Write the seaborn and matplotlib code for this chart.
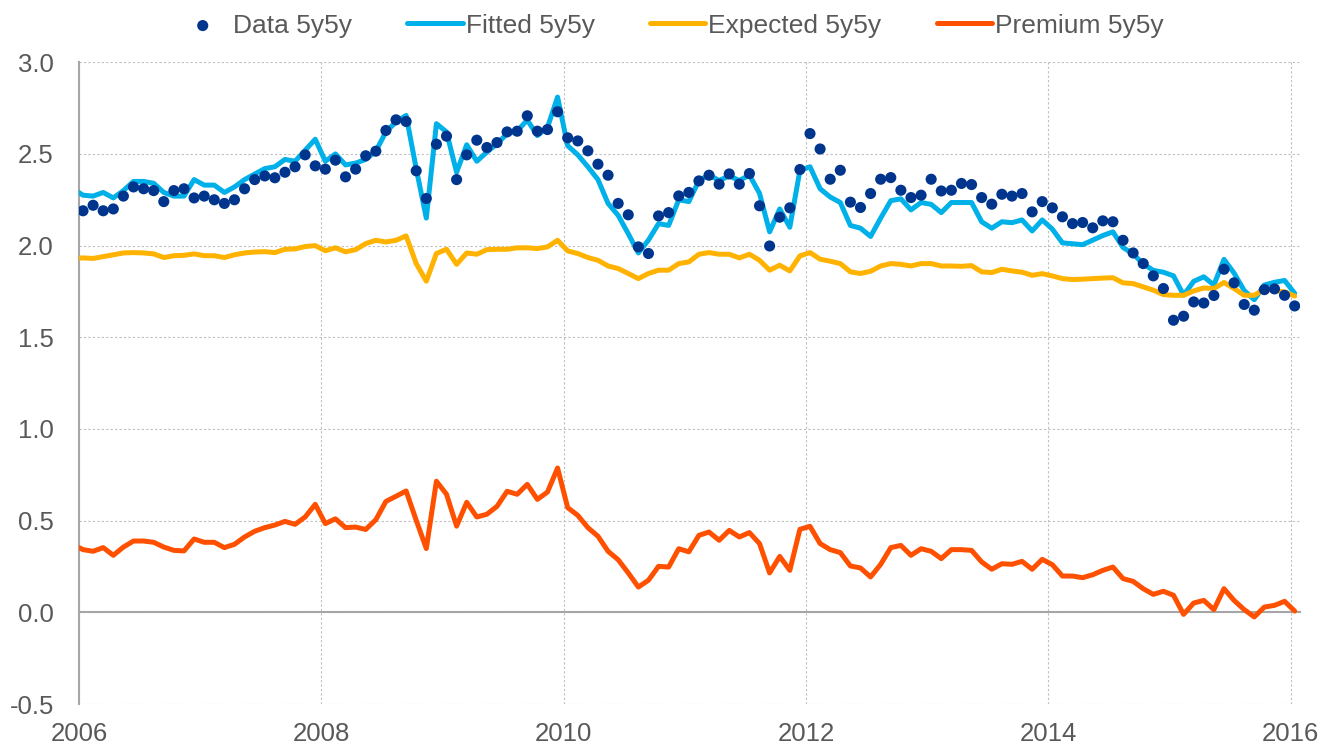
import numpy as np
import pandas as pd
import matplotlib.pyplot as plt
from matplotlib.ticker import FormatStrFormatter
import seaborn as sns

# monthly values, lines start one month before the first data point (Dec 2005)
fitted = [2.31,
          2.275, 2.27, 2.29, 2.26, 2.30, 2.35, 2.35, 2.34, 2.29, 2.27, 2.27, 2.36,
          2.33, 2.33, 2.29, 2.32, 2.36, 2.39, 2.42, 2.43, 2.47, 2.46, 2.52, 2.58,
          2.46, 2.50, 2.44, 2.45, 2.47, 2.515, 2.62, 2.675, 2.71, 2.42, 2.15, 2.665,
          2.62, 2.40, 2.55, 2.46, 2.51, 2.555, 2.61, 2.625, 2.685, 2.60, 2.645, 2.81,
          2.545, 2.495, 2.43, 2.36, 2.23, 2.165, 2.065, 1.96, 2.03, 2.12, 2.11, 2.25,
          2.24, 2.355, 2.385, 2.355, 2.38, 2.355, 2.385, 2.285, 2.075, 2.20, 2.10, 2.41,
          2.43, 2.31, 2.265, 2.235, 2.11, 2.095, 2.05, 2.15, 2.245, 2.255, 2.195, 2.235,
          2.225, 2.18, 2.235, 2.235, 2.235, 2.13, 2.095, 2.13, 2.125, 2.14, 2.08, 2.14,
          2.09, 2.015, 2.01, 2.005, 2.03, 2.055, 2.075, 1.99, 1.955, 1.90, 1.865, 1.855,
          1.835, 1.73, 1.805, 1.83, 1.785, 1.925, 1.85, 1.755, 1.705, 1.785, 1.80, 1.81,
          1.74]
expected = [1.93,
            1.933, 1.93, 1.94, 1.95, 1.96, 1.962, 1.96, 1.955, 1.935, 1.945, 1.947, 1.955,
            1.945, 1.945, 1.935, 1.95, 1.96, 1.965, 1.967, 1.962, 1.98, 1.982, 1.995, 2.0,
            1.972, 1.988, 1.966, 1.978, 2.011, 2.029, 2.02, 2.029, 2.053, 1.902, 1.806, 1.957,
            1.98, 1.898, 1.96, 1.953, 1.978, 1.98, 1.98, 1.988, 1.988, 1.984, 1.993, 2.029,
            1.971, 1.957, 1.935, 1.92, 1.889, 1.875, 1.848, 1.82, 1.848, 1.866, 1.866, 1.902,
            1.911, 1.953, 1.962, 1.953, 1.953, 1.933, 1.953, 1.92, 1.866, 1.893, 1.862, 1.944,
            1.962, 1.926, 1.915, 1.902, 1.857, 1.848, 1.86, 1.889, 1.902, 1.898, 1.889, 1.902,
            1.902, 1.889, 1.889, 1.887, 1.891, 1.857, 1.853, 1.871, 1.862, 1.855, 1.838, 1.847,
            1.835, 1.82, 1.815, 1.817, 1.82, 1.823, 1.825, 1.797, 1.793, 1.775, 1.757, 1.733,
            1.729, 1.729, 1.753, 1.769, 1.766, 1.799, 1.766, 1.729, 1.729, 1.762, 1.757, 1.747,
            1.725]
premium = [0.37,
           0.342, 0.333, 0.353, 0.311, 0.356, 0.389, 0.389, 0.382, 0.356, 0.338, 0.335, 0.40,
           0.382, 0.382, 0.353, 0.371, 0.411, 0.442, 0.462, 0.476, 0.496, 0.48, 0.52, 0.589,
           0.484, 0.51, 0.462, 0.465, 0.452, 0.505, 0.605, 0.633, 0.662, 0.502, 0.348, 0.715,
           0.644, 0.47, 0.60, 0.52, 0.535, 0.578, 0.66, 0.644, 0.698, 0.616, 0.656, 0.787,
           0.571, 0.529, 0.462, 0.415, 0.333, 0.287, 0.215, 0.138, 0.175, 0.251, 0.247, 0.347,
           0.33, 0.42, 0.438, 0.393, 0.447, 0.411, 0.435, 0.375, 0.215, 0.305, 0.229, 0.453,
           0.469, 0.375, 0.342, 0.326, 0.253, 0.242, 0.193, 0.262, 0.353, 0.365, 0.311, 0.347,
           0.333, 0.293, 0.342, 0.342, 0.338, 0.275, 0.235, 0.265, 0.262, 0.278, 0.235, 0.289,
           0.26, 0.198, 0.198, 0.189, 0.205, 0.229, 0.247, 0.184, 0.169, 0.129, 0.098, 0.115,
           0.093, -0.011, 0.051, 0.065, 0.015, 0.129, 0.065, 0.015, -0.025, 0.029, 0.038, 0.06,
           0.007]
# observed data, Jan 2006 - Jan 2016
data = [2.19, 2.22, 2.19, 2.20, 2.27, 2.32, 2.31, 2.30, 2.24, 2.30, 2.31, 2.26,
        2.27, 2.25, 2.23, 2.25, 2.31, 2.36, 2.38, 2.37, 2.40, 2.43, 2.495, 2.435,
        2.417, 2.466, 2.375, 2.417, 2.49, 2.515, 2.628, 2.686, 2.677, 2.408, 2.257, 2.553,
        2.597, 2.36, 2.495, 2.575, 2.535, 2.562, 2.62, 2.624, 2.708, 2.624, 2.633, 2.73,
        2.588, 2.571, 2.517, 2.444, 2.384, 2.23, 2.168, 1.993, 1.957, 2.162, 2.18, 2.271,
        2.29, 2.353, 2.384, 2.335, 2.391, 2.335, 2.393, 2.217, 1.998, 2.155, 2.206, 2.415,
        2.611, 2.527, 2.362, 2.411, 2.237, 2.208, 2.284, 2.362, 2.371, 2.302, 2.262, 2.275,
        2.362, 2.298, 2.302, 2.339, 2.333, 2.262, 2.226, 2.28, 2.27, 2.284, 2.184, 2.24,
        2.206, 2.157, 2.12, 2.126, 2.097, 2.135, 2.13, 2.029, 1.96, 1.902, 1.835, 1.766,
        1.593, 1.615, 1.693, 1.687, 1.728, 1.871, 1.797, 1.679, 1.648, 1.76, 1.764, 1.729,
        1.671]

series_names = ['Fitted 5y5y', 'Expected 5y5y', 'Premium 5y5y']
colors = {'Fitted 5y5y': '#00B0E8', 'Expected 5y5y': '#FFB300', 'Premium 5y5y': '#FF5000'}
dot_color = '#00358E'
year_ticks = [2006, 2008, 2010, 2012, 2014, 2016]

line_x = 2006 + (np.arange(-1, 121) + 0.4) / 12
dot_x = 2006 + (np.arange(0, 121) + 0.4) / 12

lines = pd.DataFrame({
    'x': np.tile(line_x, 3),
    'value': fitted + expected + premium,
    'series': np.repeat(series_names, len(line_x)),
})

sns.set_style('white')
plt.rcParams['font.family'] = ['Liberation Sans', 'DejaVu Sans']
plt.rcParams['axes.unicode_minus'] = False

fig = plt.figure(figsize=(13.25, 7.5), dpi=100)
ax = fig.add_axes([0.0596, 0.0613, 0.9215, 0.8557])

sns.lineplot(data=lines, x='x', y='value', hue='series', palette=colors,
             linewidth=3.6, ax=ax, zorder=3)
sns.scatterplot(x=dot_x, y=data, color=dot_color, s=64, edgecolor='none',
                label='Data 5y5y', ax=ax, zorder=5)

ax.set_xlim(2006, 2016.077)
ax.set_ylim(-0.5, 3.0)
ax.set_xticks(year_ticks)
ax.set_yticks(np.arange(-0.5, 3.01, 0.5))
ax.yaxis.set_major_formatter(FormatStrFormatter('%.1f'))
ax.set_xlabel('')
ax.set_ylabel('')

ax.grid(True, linestyle=(0, (2, 2)), color='#BFBFBF', linewidth=0.8)
for s in ['top', 'right']:
    ax.spines[s].set_visible(False)
ax.spines['bottom'].set_position(('data', 0))
for s in ['bottom', 'left']:
    ax.spines[s].set_color('#A6A6A6')
    ax.spines[s].set_linewidth(1.5)
    ax.spines[s].set_zorder(2)

ax.tick_params(axis='x', direction='inout', length=8, width=1.2, color='#A6A6A6',
               labelsize=18.5, labelcolor='#595959', pad=75)
ax.tick_params(axis='y', direction='in', length=6, width=1.2, color='#A6A6A6',
               labelsize=18.5, labelcolor='#595959', pad=18)

handles, labels = ax.get_legend_handles_labels()
order = [labels.index(n) for n in ['Data 5y5y'] + series_names]
ax.get_legend().remove()
fig.legend([handles[i] for i in order], [labels[i] for i in order],
           loc='center', bbox_to_anchor=(0.505, 0.966), ncol=4, frameon=False,
           fontsize=19, labelcolor='#595959', handlelength=2.1, handletextpad=0.1,
           columnspacing=2.1)

fig.savefig('out.png', dpi=100)
